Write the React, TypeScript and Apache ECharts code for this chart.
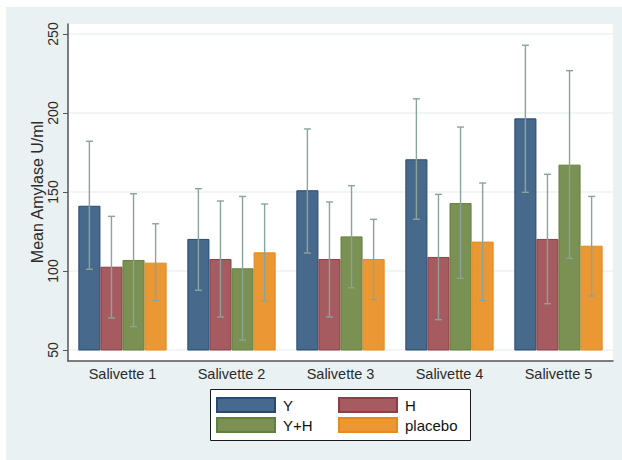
import React, { useEffect, useRef } from "react";
import * as echarts from "echarts";

const categories = ["Salivette 1", "Salivette 2", "Salivette 3", "Salivette 4", "Salivette 5"];
const seriesNames = ["Y", "H", "Y+H", "placebo"];

const meanY = [141.3, 120.3, 151.1, 170.7, 196.6];
const meanH = [102.7, 107.6, 107.6, 108.9, 120.3];
const meanYH = [107, 101.7, 121.9, 143, 167.3];
const meanPlacebo = [105.3, 111.8, 107.6, 118.6, 116];

const lowY = [101.1, 87.8, 111.4, 132.7, 149.8];
const highY = [182.1, 152.1, 189.9, 209, 242.9];
const lowH = [70.3, 70.9, 70.9, 69.2, 79.3];
const highH = [134.6, 144.3, 143.7, 148.5, 161.2];
const lowYH = [64.8, 56.3, 89.4, 95.4, 108];
const highYH = [148.9, 147.2, 154, 191.1, 226.8];
const lowPlacebo = [81.2, 81.2, 81.9, 81.2, 84.2];
const highPlacebo = [129.9, 142.4, 132.7, 155.7, 147.2];

const yTicks = [50, 100, 150, 200, 250];

const fills = ["#476a8c", "#a65b61", "#7a9153", "#eb9834"];
const borders = ["#274a72", "#8d3f47", "#62803d", "#e58a1f"];

const means = [meanY, meanH, meanYH, meanPlacebo];
const lows = [lowY, lowH, lowYH, lowPlacebo];
const highs = [highY, highH, highYH, highPlacebo];

const CAT_GAP = 0.19;
const FONT = "'Liberation Sans', Arial, sans-serif";
const TXT = "#2b2b2b";

export default function App() {
  const ref = useRef<HTMLDivElement>(null);
  useEffect(() => {
    document.body.style.margin = "0";
    const chart = echarts.init(ref.current!, null, { renderer: "svg" });

    const barSeries = seriesNames.map((name, k) => ({
      name,
      type: "bar",
      xAxisIndex: 0,
      yAxisIndex: 0,
      data: means[k],
      barGap: "0%",
      barCategoryGap: CAT_GAP * 100 + "%",
      itemStyle: { color: fills[k], borderColor: borders[k], borderWidth: 1 },
      z: 2,
    }));

    const errSeries = seriesNames.map((name, k) => ({
      name: name + " ci",
      type: "custom",
      xAxisIndex: 0,
      yAxisIndex: 0,
      z: 3,
      data: categories.map((_, i) => [i, lows[k][i], highs[k][i]]),
      encode: { x: 0, y: [1, 2] },
      renderItem: (params: any, api: any) => {
        const c = api.value(0);
        const lo = api.coord([c, api.value(1)]);
        const hi = api.coord([c, api.value(2)]);
        const band = api.size([1, 0])[0];
        const bw = (band * (1 - CAT_GAP)) / 4;
        const x = lo[0] + (k - 1.5) * bw;
        const cap = 3.5;
        const st = { stroke: "#8aa39b", lineWidth: 1.4 };
        return {
          type: "group",
          children: [
            { type: "line", shape: { x1: x, y1: lo[1], x2: x, y2: hi[1] }, style: st },
            { type: "line", shape: { x1: x - cap, y1: hi[1], x2: x + cap, y2: hi[1] }, style: st },
            { type: "line", shape: { x1: x - cap, y1: lo[1], x2: x + cap, y2: lo[1] }, style: st },
          ],
        };
      },
    }));

    const legendCommon = {
      orient: "vertical",
      itemWidth: 58,
      itemHeight: 14,
      itemGap: 4,
      icon: "rect",
      textStyle: { fontFamily: FONT, fontSize: 15, color: "#111", padding: [0, 0, 0, 3] },
      selectedMode: false,
    };

    chart.setOption({
      animation: false,
      backgroundColor: "#ffffff",
      textStyle: { fontFamily: FONT },
      graphic: {
        elements: [
          { type: "rect", z: -10, shape: { x: 6, y: 7, width: 616, height: 453 }, style: { fill: "#eaf1f3" }, silent: true },
          { type: "rect", z: -9, shape: { x: 68, y: 24, width: 545, height: 337 }, style: { fill: "#ffffff" }, silent: true },
          { type: "rect", z: -8, shape: { x: 210.5, y: 389.5, width: 260, height: 51 }, style: { fill: "#ffffff", stroke: "#1a1a1a", lineWidth: 1 }, silent: true },
        ],
      },
      grid: [
        { left: 68, right: 9, top: 34, height: 316 },
        { left: 68, right: 9, top: 24, height: 337 },
      ],
      xAxis: [
        {
          type: "category",
          gridIndex: 0,
          data: categories,
          axisLine: { show: false },
          axisTick: { show: false },
          axisLabel: { show: false },
        },
        {
          type: "category",
          gridIndex: 1,
          data: categories,
          axisLine: { show: true, lineStyle: { color: "#555", width: 1.5 } },
          axisTick: { show: false },
          axisLabel: { show: true, margin: 5, fontSize: 14.5, color: TXT, fontFamily: FONT },
        },
      ],
      yAxis: [
        {
          type: "value",
          gridIndex: 0,
          min: 50,
          max: 250,
          interval: 50,
          axisLine: { show: false },
          axisTick: { show: true, length: 5, lineStyle: { color: "#555", width: 1 } },
          axisLabel: { show: true, rotate: 90, margin: 8, fontSize: 14, color: TXT, fontFamily: FONT, customValues: yTicks },
          splitLine: { show: true, lineStyle: { color: "#edf2f2", width: 1.5 } },
          name: "Mean Amylase U/ml",
          nameLocation: "middle",
          nameRotate: 90,
          nameGap: 23,
          nameMoveOverlap: false,
          nameTextStyle: { fontSize: 16, color: TXT, fontFamily: FONT },
        },
        {
          type: "value",
          gridIndex: 1,
          min: 0,
          max: 1,
          axisLine: { show: true, lineStyle: { color: "#555", width: 1.5 } },
          axisTick: { show: false },
          axisLabel: { show: false },
          splitLine: { show: false },
        },
      ],
      legend: [
        { ...legendCommon, left: 211, top: 392, data: ["Y", "Y+H"] },
        { ...legendCommon, left: 333, top: 392, data: ["H", "placebo"] },
      ],
      series: [...barSeries, ...errSeries],
    });
    return () => chart.dispose();
  }, []);
  return <div ref={ref} style={{ width: 622, height: 460 }} />;
}
